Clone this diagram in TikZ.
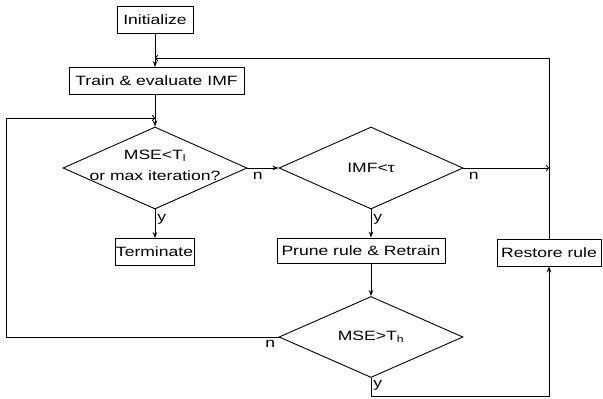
\documentclass[tikz,border=0pt]{standalone}
\usepackage{fontspec}
\setmainfont{Liberation Sans}[FakeStretch=1.3]
\usetikzlibrary{shapes.geometric,arrows.meta}
\begin{document}
\begin{tikzpicture}[x=1pt,y=-1pt, line width=0.9pt,
 fnt/.style={font=\fontsize{13.5}{21}\selectfont},
 box/.style={draw, rectangle, inner sep=0pt, minimum height=27pt, fnt},
 dia/.style={draw, diamond, inner sep=0pt, minimum width=184pt, minimum height=82pt},
 txt/.style={fnt, align=center, inner sep=0pt},
 lab/.style={fnt, inner sep=0pt},
 arr/.style={-{Stealth[length=6pt,width=4.5pt]}},
 oarr/.style={-{To[length=3pt,width=6pt]}}]
\useasboundingbox (0,0) rectangle (603,399);

\node[box, minimum width=76pt] (init) at (155,19.5) {Initialize};
\node[box, minimum width=175pt] (train) at (156.5,81) {Train \& evaluate IMF};
\node[dia] (d1) at (155,168) {};
\node[txt] at ([yshift=3pt]d1) {MSE<T\textsubscript{l}\\or max iteration?};
\node[dia] (d2) at (371,168) {};
\node[txt] at (d2) {IMF<τ};
\node[box, minimum width=79pt] (term) at (154.5,252) {Terminate};
\node[box, minimum width=168pt, minimum height=25pt] (prune) at (361,250.5) {Prune rule \& Retrain};
\node[box, minimum width=104pt] (restore) at (549,252.5) {Restore rule};
\node[dia, minimum height=81pt] (d3) at (371,337) {};
\node[txt] at (d3) {MSE>T\textsubscript{h}};

\coordinate (fb) at (155,58);
\coordinate (lp) at (155,118);
\coordinate (rj) at (549,168);
\coordinate (bl) at (6,337);
\coordinate (br) at (549,396);

\draw[arr] (init.south) -- (init.south |- train.north);
\draw[oarr] (restore.north) |- (fb);
\draw[arr] (d1.north |- train.south) -- (d1.north);
\draw[oarr] (d3.west) -- (bl) |- (lp);
\draw[arr] (d1.east) -- (d2.west);
\draw[arr] (d1.south) -- (d1.south |- term.north);
\draw[oarr] (d2.east) -- (rj);
\draw[arr] (d2.south) -- (d2.south |- prune.north);
\draw[arr] (d2.south |- prune.south) -- (d3.north);
\draw[arr] (d3.south) |- (br) -- (restore.south);

\node[lab, anchor=north west] at ([xshift=5pt,yshift=-4pt]d1.east) {n};
\node[lab, anchor=north west] at ([xshift=2pt,yshift=-4pt]d1.south) {y};
\node[lab, anchor=north west] at ([xshift=5pt,yshift=-4pt]d2.east) {n};
\node[lab, anchor=north west] at ([xshift=2pt,yshift=-4pt]d2.south) {y};
\node[lab, anchor=north east] at ([xshift=-3pt,yshift=-3pt]d3.west) {n};
\node[lab, anchor=north west] at ([xshift=2pt,yshift=-2pt]d3.south) {y};
\end{tikzpicture}
\end{document}
